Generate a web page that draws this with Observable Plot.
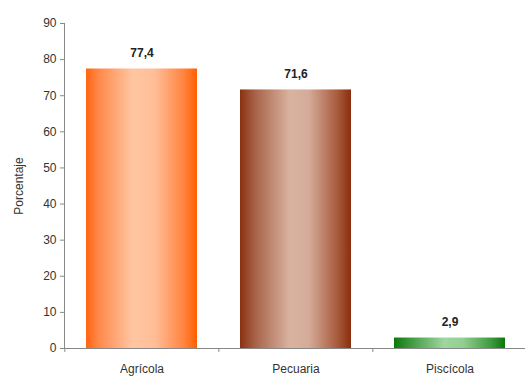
<!DOCTYPE html>
<html>
<head>
<meta charset="utf-8">
<script src="https://cdn.jsdelivr.net/npm/d3@7"></script>
<script src="https://cdn.jsdelivr.net/npm/@observablehq/plot@0.6"></script>
<style>
  html, body { margin: 0; padding: 0; background: #fff; }
  #chart svg { display: block; }
</style>
</head>
<body>
<div id="chart"></div>
<script>
const categories = ["Agrícola", "Pecuaria", "Piscícola"];
const values = [77.4, 71.6, 2.9];
const valueLabels = ["77,4", "71,6", "2,9"];
const yTicks = [0, 10, 20, 30, 40, 50, 60, 70, 80, 90];
const gradientIds = ["gAgr", "gPec", "gPis"];

const data = categories.map((c, i) => ({cat: c, value: values[i], label: valueLabels[i], grad: gradientIds[i]}));

const W = 525, H = 380, mL = 64, mR = -2, mT = 23, mB = 32;
const step = (W - mL - mR) / categories.length;

function defs() {
  const d = d3.create("svg:defs");
  const specs = {
    gAgr: [[0, "#ff6410"], [0.12, "#ff8a4c"], [0.42, "#ffc6a2"], [0.62, "#ffbe96"], [0.88, "#ff8440"], [1, "#ff6000"]],
    gPec: [[0, "#8a3212"], [0.14, "#a8644a"], [0.45, "#d9b3a1"], [0.62, "#d4ab98"], [0.88, "#a85a3c"], [1, "#8a2e0e"]],
    gPis: [[0, "#0a780a"], [0.15, "#3e9a3e"], [0.45, "#9fd69f"], [0.62, "#92cf92"], [0.88, "#3c9a3c"], [1, "#0a760a"]]
  };
  for (const [id, stops] of Object.entries(specs)) {
    const g = d.append("linearGradient").attr("id", id).attr("x1", "0").attr("x2", "1").attr("y1", "0").attr("y2", "0");
    for (const [o, c] of stops) g.append("stop").attr("offset", o).attr("stop-color", c);
  }
  return d.node();
}

const chart = Plot.plot({
  width: W,
  height: H,
  marginLeft: mL,
  marginRight: mR,
  marginTop: mT,
  marginBottom: mB,
  style: {fontFamily: "'Liberation Sans', Arial, sans-serif", fontSize: "12px", color: "#222", background: "#fff"},
  x: {domain: categories, paddingInner: 0.28, paddingOuter: 0.14, label: null},
  y: {domain: [0, 90], label: null},
  marks: [
    defs,
    Plot.barY(data, {x: "cat", y: "value", fill: d => `url(#${d.grad})`}),
    Plot.ruleY([0], {stroke: "#888", strokeWidth: 1}),
    Plot.ruleX(categories, {x: d => d, dx: -step / 2, y1: 0, y2: 0, insetBottom: -4, stroke: "#888"}),
    Plot.axisY(yTicks, {tickSize: 4, tickPadding: 4, stroke: "#888", fill: "#333", fontSize: 12,
      label: "Porcentaje", labelAnchor: "center", labelOffset: 50, labelArrow: "none"}),
    Plot.frame({anchor: "left", stroke: "#888"}),
    Plot.axisX({tickSize: 0, tickPadding: 16, fill: "#333", fontSize: 12, label: null}),
    Plot.text(data, {x: "cat", y: "value", text: "label", dy: -16, fontWeight: "bold", fontSize: 12, fill: "#222"})
  ]
});
document.getElementById("chart").appendChild(chart);
</script>
</body>
</html>
